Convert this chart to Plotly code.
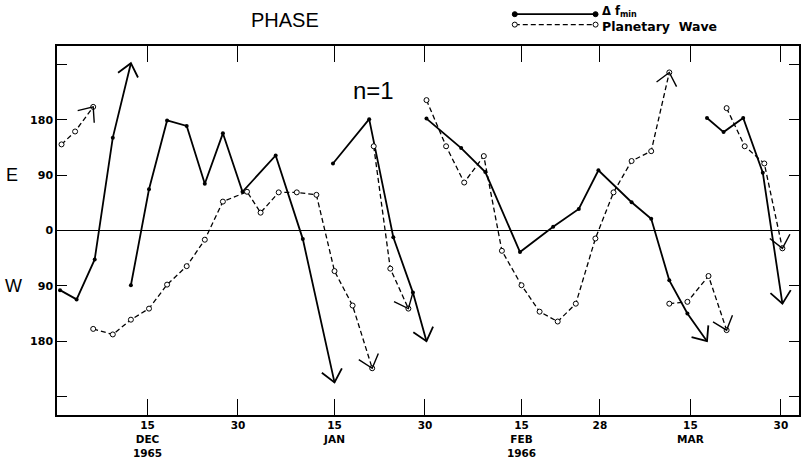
import math
import pandas as pd
import plotly.graph_objects as go

# ---------------- data ----------------
# Delta f_min phase (solid line); None separates drawn segments, last point of each is an arrow tip
fmin_dates = [
    "1965-11-30 12:00", "1965-12-03 06:00", "1965-12-06 06:00", "1965-12-09 06:00", "1965-12-12 06:00", None,
    "1965-12-12 06:00", "1965-12-15 06:00", "1965-12-18 06:00", "1965-12-21 12:00", "1965-12-24 12:00",
    "1965-12-27 12:00", "1965-12-30 18:00", "1966-01-05 06:00", "1966-01-09 18:00", "1966-01-15 00:00", None,
    "1966-01-14 18:00", "1966-01-20 18:00", "1966-01-24 18:00", "1966-01-28 00:00", "1966-01-30 06:00", None,
    "1966-01-30 06:00", "1966-02-05 00:00", "1966-02-09 00:00", "1966-02-14 18:00", "1966-02-20 06:00",
    "1966-02-24 12:00", "1966-02-27 18:00", "1966-03-05 06:00", "1966-03-08 12:00", "1966-03-11 12:00",
    "1966-03-14 12:00", "1966-03-17 18:00", None,
    "1966-03-17 18:00", "1966-03-20 12:00", "1966-03-23 18:00", "1966-03-27 00:00", "1966-03-30 06:00",
]
fmin_phase = [
    -97, -112, -47, 151, 272, None,
    -89, 67, 179, 170, 76, 158, 63, 122, -14, -247, None,
    109, 181, -11, -101, -180, None,
    182, 134, 95, -35, 6, 35, 98, 46, 19, -81, -135, -180, None,
    183, 160, 183, 94, -119,
]

# Planetary wave phase (dashed line)
wave_dates = [
    "1965-11-30 18:00", "1965-12-03 00:00", "1965-12-06 00:00", None,
    "1965-12-06 00:00", "1965-12-09 06:00", "1965-12-12 06:00", "1965-12-15 06:00", "1965-12-18 06:00",
    "1965-12-21 12:00", "1965-12-24 12:00", "1965-12-27 12:00", "1965-12-31 12:00", "1966-01-02 18:00",
    "1966-01-05 18:00", "1966-01-08 18:00", "1966-01-12 00:00", "1966-01-15 00:00", "1966-01-18 00:00",
    "1966-01-21 06:00", None,
    "1966-01-21 12:00", "1966-01-24 06:00", "1966-01-27 06:00", None,
    "1966-01-30 06:00", "1966-02-02 12:00", "1966-02-05 12:00", "1966-02-08 18:00", "1966-02-11 18:00",
    "1966-02-15 00:00", "1966-02-18 00:00", "1966-02-21 00:00", "1966-02-24 00:00", "1966-02-27 06:00",
    "1966-03-02 06:00", "1966-03-05 06:00", "1966-03-08 12:00", "1966-03-11 12:00", None,
    "1966-03-11 12:00", "1966-03-14 12:00", "1966-03-18 00:00", "1966-03-21 00:00", None,
    "1966-03-21 00:00", "1966-03-24 00:00", "1966-03-27 06:00", "1966-03-30 06:00",
]
wave_phase = [
    140, 161, 201, None,
    -160, -169, -145, -127, -88, -58, -15, 47, 63, 29, 62, 62, 58, -66, -122, -224, None,
    137, -62, -127, None,
    212, 137, 78, 121, -33, -89, -132, -148, -119, -13, 62, 113, 129, 257, None,
    -119, -116, -74, -162, None,
    199, 137, 109, -29,
]

tick_dates = ["1965-12-15", "1965-12-30", "1966-01-15", "1966-01-30",
              "1966-02-15", "1966-02-28", "1966-03-15", "1966-03-30"]
tick_text = ["15<br>DEC<br>1965", "30", "15<br>JAN", "30",
             "15<br>FEB<br>1966", "28", "15<br>MAR", "30"]
phase_ticks = [-180, -90, 0, 90, 180]
phase_text = ["180", "90", "0", "90", "180"]
phase_minor_ticks = [-270, 270]

# ---------------- layout constants ----------------
W, H = 802, 460
ML, MR, MT, MB = 57, 1, 46, 43
X0, X1 = pd.Timestamp("1965-11-30"), pd.Timestamp("1966-04-02")
Y0, Y1 = -300, 300
PW, PH = W - ML - MR, H - MT - MB
KX = PW / ((X1 - X0).total_seconds() / 86400.0)   # px per day
KY = PH / (Y1 - Y0)                                # px per degree


def segments(dates, vals):
    out, cx, cy = [], [], []
    for d, v in zip(dates, vals):
        if d is None:
            out.append((cx, cy)); cx, cy = [], []
        else:
            cx.append(pd.Timestamp(d)); cy.append(v)
    if cx:
        out.append((cx, cy))
    return out


def arrow_arms(xp, yp, xt, yt, length=16, half_angle=40):
    # direction in pixel space (screen y downward)
    dx = (xt - xp).total_seconds() / 86400.0 * KX
    dy = -(yt - yp) * KY
    n = math.hypot(dx, dy)
    bx, by = -dx / n, -dy / n
    pts = []
    for s in (1, -1):
        a = math.radians(half_angle * s)
        rx = bx * math.cos(a) - by * math.sin(a)
        ry = bx * math.sin(a) + by * math.cos(a)
        pts.append((xt + pd.Timedelta(days=rx * length / KX), yt - ry * length / KY))
    return [pts[0][0], xt, pts[1][0]], [pts[0][1], yt, pts[1][1]]


fig = go.Figure()

for xs, ys in segments(fmin_dates, fmin_phase):
    fig.add_trace(go.Scatter(x=xs, y=ys, mode="lines", line=dict(color="black", width=1.8),
                             showlegend=False, hoverinfo="skip"))
    fig.add_trace(go.Scatter(x=xs[:-1], y=ys[:-1], mode="markers",
                             marker=dict(color="black", size=4), showlegend=False))
    ax_, ay_ = arrow_arms(xs[-2], ys[-2], xs[-1], ys[-1])
    fig.add_trace(go.Scatter(x=ax_, y=ay_, mode="lines", line=dict(color="black", width=1.8),
                             showlegend=False, hoverinfo="skip"))

for xs, ys in segments(wave_dates, wave_phase):
    fig.add_trace(go.Scatter(x=xs, y=ys, mode="lines",
                             line=dict(color="black", width=1.3, dash="5px,3px"),
                             showlegend=False, hoverinfo="skip"))
    fig.add_trace(go.Scatter(x=xs, y=ys, mode="markers",
                             marker=dict(color="white", size=5, line=dict(color="black", width=1)),
                             showlegend=False))
    ax_, ay_ = arrow_arms(xs[-2], ys[-2], xs[-1], ys[-1])
    fig.add_trace(go.Scatter(x=ax_, y=ay_, mode="lines", line=dict(color="black", width=1.4),
                             showlegend=False, hoverinfo="skip"))

# ---------------- hand-made legend ----------------
def pxx(p):
    return (p - ML) / PW


def pxy(p):
    return (H - MB - p) / PH


shapes = []
ly1, ly2 = pxy(14), pxy(24.5)
lx0, lx1 = pxx(516), pxx(597)
shapes.append(dict(type="line", xref="paper", yref="paper", x0=lx0, x1=lx1, y0=ly1, y1=ly1,
                   line=dict(color="black", width=1.6)))
shapes.append(dict(type="line", xref="paper", yref="paper", x0=lx0, x1=lx1, y0=ly2, y1=ly2,
                   line=dict(color="black", width=1.3, dash="5px,3px")))
for xa in (lx0, lx1):
    shapes.append(dict(type="circle", xref="paper", yref="paper", xsizemode="pixel", ysizemode="pixel",
                       xanchor=xa, yanchor=ly1, x0=-2.5, x1=2.5, y0=-2.5, y1=2.5,
                       fillcolor="black", line=dict(color="black", width=1)))
    shapes.append(dict(type="circle", xref="paper", yref="paper", xsizemode="pixel", ysizemode="pixel",
                       xanchor=xa, yanchor=ly2, x0=-2.5, x1=2.5, y0=-2.5, y1=2.5,
                       fillcolor="white", line=dict(color="black", width=1)))

thin = dict(family="Liberation Sans", color="black")
annotations = [
    dict(text="Δ f<sub>min</sub>", x=pxx(601), y=pxy(11.5), xref="paper", yref="paper",
         xanchor="left", yanchor="middle", showarrow=False,
         font=dict(family="DejaVu Sans", size=11.5, color="black", weight="bold")),
    dict(text="Planetary  Wave", x=pxx(601), y=pxy(26), xref="paper", yref="paper",
         xanchor="left", yanchor="middle", showarrow=False,
         font=dict(family="DejaVu Sans", size=12.5, color="black", weight="bold")),
    dict(text="PHASE", x=pxx(286), y=pxy(19.5), xref="paper", yref="paper",
         xanchor="center", yanchor="middle", showarrow=False, font=dict(thin, size=20)),
    dict(text="n=1", x=pxx(374), y=pxy(91), xref="paper", yref="paper",
         xanchor="center", yanchor="middle", showarrow=False, font=dict(thin, size=24)),
    dict(text="E", x=pxx(11.7), y=90, xref="paper", yref="y",
         xanchor="center", yanchor="middle", showarrow=False, font=dict(thin, size=18)),
    dict(text="W", x=pxx(13.3), y=-90, xref="paper", yref="y",
         xanchor="center", yanchor="middle", showarrow=False, font=dict(thin, size=18)),
]

fig.update_layout(
    width=W, height=H,
    margin=dict(l=ML, r=MR, t=MT, b=MB, pad=0),
    paper_bgcolor="white", plot_bgcolor="white",
    shapes=shapes, annotations=annotations,
    xaxis=dict(type="date", range=[X0, X1], tickvals=tick_dates, ticktext=tick_text,
               ticks="inside", ticklen=16, tickwidth=1.3, tickcolor="black",
               showline=True, linecolor="black", linewidth=1.5, mirror="ticks",
               showgrid=False, zeroline=False,
               tickfont=dict(family="DejaVu Sans", size=10.5, color="black", weight="bold")),
    yaxis=dict(range=[Y0, Y1], tickvals=phase_ticks, ticktext=phase_text,
               ticks="inside", ticklen=10, tickwidth=1.3, tickcolor="black",
               minor=dict(tickvals=phase_minor_ticks, ticks="inside", ticklen=10,
                          tickwidth=1.3, tickcolor="black", showgrid=False),
               showline=True, linecolor="black", linewidth=1.5, mirror="ticks",
               showgrid=False, zeroline=True, zerolinecolor="black", zerolinewidth=1,
               tickfont=dict(family="DejaVu Sans", size=11, color="black", weight="bold")),
)

fig.write_html("out.html")
